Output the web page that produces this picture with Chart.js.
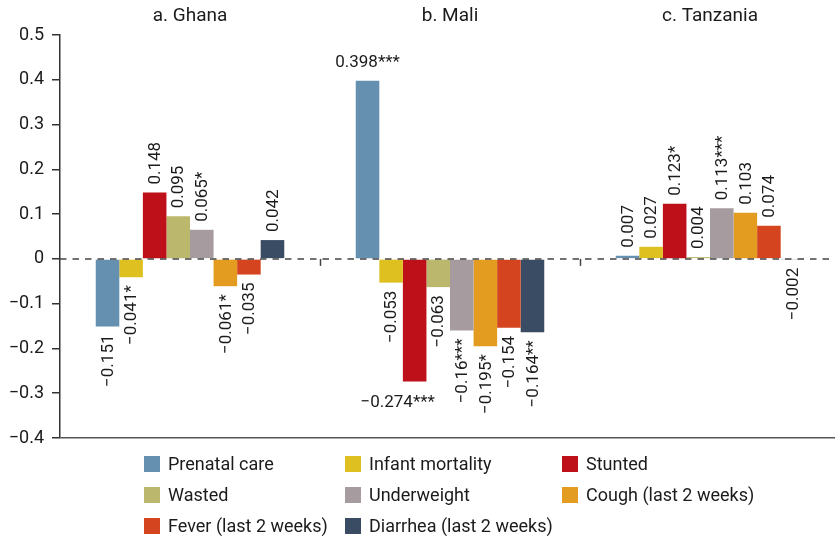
<!DOCTYPE html>
<html>
<head>
<meta charset="utf-8">
<script src="https://cdn.jsdelivr.net/npm/chart.js@4.4.1/dist/chart.umd.min.js"></script>
<style>
  html, body { margin: 0; padding: 0; background: #fff; overflow: hidden; }
  #wrap { position: relative; width: 840px; height: 540px; }
  #legend {
    position: absolute; left: 144px; top: 456px;
    display: grid; grid-template-columns: 201px 217px auto; grid-auto-rows: 31px;
    font-family: Roboto, sans-serif; font-size: 18px; color: #1c1a1b;
  }
  #legend .item { display: flex; align-items: flex-start; white-space: nowrap; }
  #legend .box { width: 16px; height: 16px; margin-right: 8px; flex: none; }
  #legend .txt { line-height: 16px; }
</style>
</head>
<body>
<div id="wrap">
  <canvas id="effectsChart" width="840" height="540"></canvas>
  <div id="legend"></div>
</div>
<script>
// data
const countries = ['a. Ghana', 'b. Mali', 'c. Tanzania'];

const prenatalCare    = [-0.151, 0.398, 0.007];
const infantMortality = [-0.041, -0.053, 0.027];
const stunted         = [0.148, -0.274, 0.123];
const wasted          = [0.095, -0.063, 0.004];
const underweight     = [0.065, -0.16, 0.113];
const cough           = [-0.061, -0.195, 0.103];
const fever           = [-0.035, -0.154, 0.074];
const diarrhea        = [0.042, -0.164, -0.002];

// significance stars
const prenatalStars    = ['', '***', ''];
const infantStars      = ['*', '', ''];
const stuntedStars     = ['', '***', '*'];
const wastedStars      = ['', '', ''];
const underweightStars = ['*', '***', '***'];
const coughStars       = ['*', '*', ''];
const feverStars       = ['', '', ''];
const diarrheaStars    = ['', '**', ''];

const yMin = -0.4, yMax = 0.5, yStep = 0.1;

const fontFamily = 'Roboto, sans-serif';
const textColor = '#1c1a1b';
const minus = s => s.replace('-', '\u2212');

// labels drawn at bar ends; long bars get horizontal labels
const barLabels = {
    id: 'barLabels',
    afterDatasetsDraw(chart) {
        const ctx = chart.ctx;
        ctx.save();
        ctx.fillStyle = textColor;
        ctx.font = '17px ' + fontFamily;
        chart.data.datasets.forEach((ds, di) => {
            const meta = chart.getDatasetMeta(di);
            meta.data.forEach((bar, i) => {
                const v = ds.data[i];
                const text = minus(String(v)) + ds.stars[i];
                if (Math.abs(v) > 0.25) {
                    ctx.textAlign = 'center';
                    ctx.textBaseline = 'alphabetic';
                    if (v > 0) ctx.fillText(text, bar.x, bar.y - 14);
                    else ctx.fillText(text, bar.x - 17, bar.y + 25);
                    return;
                }
                ctx.save();
                ctx.translate(bar.x, v >= 0 ? bar.y - 8 : bar.y + 8);
                ctx.rotate(-Math.PI / 2);
                ctx.textBaseline = 'middle';
                ctx.textAlign = v >= 0 ? 'left' : 'right';
                ctx.fillText(text, 0, 1);
                ctx.restore();
            });
        });
        ctx.restore();
    }
};

// dashed zero line + small category ticks
const zeroLine = {
    id: 'zeroLine',
    afterDatasetsDraw(chart) {
        const { ctx, chartArea, scales } = chart;
        const y0 = scales.y.getPixelForValue(0);
        ctx.save();
        ctx.strokeStyle = '#444';
        ctx.lineWidth = 1.5;
        ctx.setLineDash([6.5, 6]);
        ctx.beginPath();
        ctx.moveTo(chartArea.left, y0);
        ctx.lineTo(chartArea.right, y0);
        ctx.stroke();
        ctx.setLineDash([]);
        const step = scales.x.getPixelForValue(1) - scales.x.getPixelForValue(0);
        for (let i = 0; i < countries.length; i++) {
            const x = Math.round(scales.x.getPixelForValue(i) + step / 2) + 0.5;
            ctx.beginPath();
            ctx.moveTo(x, y0);
            ctx.lineTo(x, y0 + 7);
            ctx.stroke();
        }
        ctx.restore();
    }
};

const ctx = document.getElementById('effectsChart');

const chart = new Chart(ctx, {
    type: 'bar',
    data: {
        labels: countries,
        datasets: [
            { label: 'Prenatal care', data: prenatalCare, stars: prenatalStars, backgroundColor: '#6590b0' },
            { label: 'Infant mortality', data: infantMortality, stars: infantStars, backgroundColor: '#dfc021' },
            { label: 'Stunted', data: stunted, stars: stuntedStars, backgroundColor: '#be1019' },
            { label: 'Wasted', data: wasted, stars: wastedStars, backgroundColor: '#bbb86d' },
            { label: 'Underweight', data: underweight, stars: underweightStars, backgroundColor: '#a69c9f' },
            { label: 'Cough (last 2 weeks)', data: cough, stars: coughStars, backgroundColor: '#e39c1f' },
            { label: 'Fever (last 2 weeks)', data: fever, stars: feverStars, backgroundColor: '#d4441e' },
            { label: 'Diarrhea (last 2 weeks)', data: diarrhea, stars: diarrheaStars, backgroundColor: '#3a4b64' }
        ]
    },
    options: {
        responsive: false,
        animation: false,
        datasets: {
            bar: { categoryPercentage: 0.725, barPercentage: 1.0, borderWidth: 0 }
        },
        layout: { padding: { left: 0, right: 0, top: 0, bottom: 102 } },
        plugins: {
            legend: { display: false },
            tooltip: { enabled: false }
        },
        scales: {
            x: {
                position: 'top',
                grid: { display: false, drawTicks: false },
                border: { display: false },
                ticks: { color: textColor, font: { family: fontFamily, size: 19 }, padding: 7 },
                afterFit: axis => { axis.height = 35; }
            },
            y: {
                min: yMin,
                max: yMax,
                ticks: {
                    stepSize: yStep,
                    color: textColor,
                    font: { family: fontFamily, size: 18 },
                    padding: 8,
                    callback: v => Math.abs(v) < 1e-9 ? '0' : minus(v.toFixed(1))
                },
                grid: {
                    drawTicks: true,
                    tickLength: 8,
                    tickColor: '#333',
                    tickWidth: 1.5,
                    lineWidth: 1.5,
                    color: c => (c.tick && Math.abs(c.tick.value - yMin) < 1e-9) ? '#555' : 'rgba(0,0,0,0)'
                },
                border: { display: true, color: '#333', width: 1.5 },
                afterFit: axis => { axis.width = 60; }
            }
        }
    },
    plugins: [zeroLine, barLabels]
});

// html legend in three columns
const legend = document.getElementById('legend');
chart.data.datasets.forEach(ds => {
    const item = document.createElement('div');
    item.className = 'item';
    const box = document.createElement('span');
    box.className = 'box';
    box.style.background = ds.backgroundColor;
    const txt = document.createElement('span');
    txt.className = 'txt';
    txt.textContent = ds.label;
    item.appendChild(box);
    item.appendChild(txt);
    legend.appendChild(item);
});
</script>
</body>
</html>
